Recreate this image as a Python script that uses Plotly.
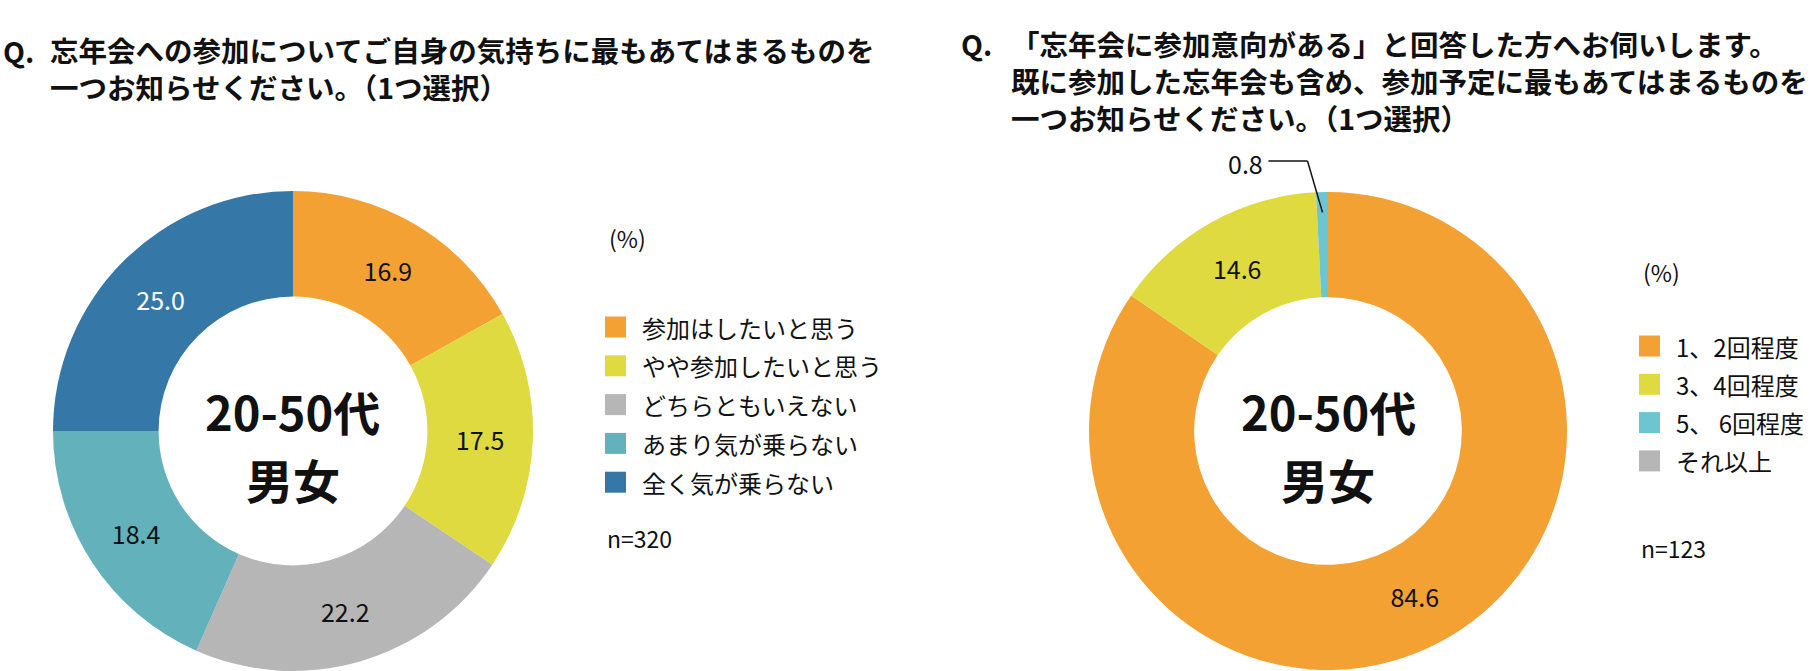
import math
import plotly.graph_objects as go

W, H = 1819, 671
FONT = "Noto Sans CJK JP"

# ---------------- data ----------------
left_title = ["忘年会への参加についてご自身の気持ちに最もあてはまるものを",
              "一つお知らせください。（1つ選択）"]
left_labels = ["参加はしたいと思う", "やや参加したいと思う", "どちらともいえない",
               "あまり気が乗らない", "全く気が乗らない"]
left_values = [16.9, 17.5, 22.2, 18.4, 25.0]
left_n = "n=320"

right_title = ["「忘年会に参加意向がある」と回答した方へお伺いします。",
               "既に参加した忘年会も含め、参加予定に最もあてはまるものを",
               "一つお知らせください。（1つ選択）"]
right_labels = ["1、2回程度", "3、4回程度", "5、 6回程度", "それ以上"]
right_values = [84.6, 14.6, 0.8, 0.0]
right_n = "n=123"

center_lines = ["20-50代", "男女"]
unit_label = "(%)"
q_mark = "Q."

# ---------------- styles ----------------
left_colors = ["#F4A133", "#DFDA3F", "#B6B6B6", "#63B1BB", "#3577A7"]
right_colors = ["#F4A133", "#DFDA3F", "#6CC5D0", "#B6B6B6"]
left_text_colors = ["#111111", "#111111", "#111111", "#111111", "#FFFFFF"]
right_text_colors = ["#111111"] * 4


def px(x):
    return x / W


def py(y):
    return 1 - y / H


left_dom_x = [px(53), px(533)]
right_dom_x = [px(1089), px(1567)]
dom_y = [0, 480 / H]
hole = 0.56


def fmt(v, small=2.0):
    return "" if v < small else f"{v:.1f}"


fig = go.Figure()
for labels, values, colors, tcolors, domx in [
    (left_labels, left_values, left_colors, left_text_colors, left_dom_x),
    (right_labels, right_values, right_colors, right_text_colors, right_dom_x),
]:
    fig.add_trace(go.Pie(
        labels=labels, values=values, sort=False, direction="clockwise", rotation=0,
        hole=hole, marker=dict(colors=colors, line=dict(width=0)),
        text=[fmt(v) for v in values], textinfo="text", textposition="inside",
        insidetextorientation="horizontal",
        textfont=dict(family=FONT, size=25, color=tcolors),
        domain=dict(x=domx, y=dom_y), showlegend=False, hoverinfo="label+value",
    ))

ann = []
shapes = []


def text(x, y, s, size, bold=False, xanchor="left", color="#111111", align="left"):
    ann.append(dict(x=px(x), y=py(y), xref="paper", yref="paper", text=s, showarrow=False,
                    xanchor=xanchor, yanchor="middle", align=align, borderpad=0,
                    font=dict(family=FONT, size=size, color=color,
                              weight=700 if bold else 400)))


# titles
text(2, 50, q_mark, 28.5, bold=True)
text(49, 68, "<br>".join(left_title), 28.5, bold=True)
text(960, 44, q_mark, 28.5, bold=True)
text(1010, 80, "<br>".join(right_title), 28.5, bold=True)

# center texts
for domx in (left_dom_x, right_dom_x):
    cx = (domx[0] + domx[1]) / 2 * W
    text(cx, 410, center_lines[0], 47, bold=True, xanchor="center")
    text(cx, 478, center_lines[1], 47, bold=True, xanchor="center")

# legends
for labels, colors, x0, y0, dy, unit_y, n_y, n in [
    (left_labels, left_colors, 605, 327, 38.8, 238, 538, left_n),
    (right_labels, right_colors, 1639, 346, 38.3, 272, 548, right_n),
]:
    text(x0 + 3, unit_y, unit_label, 23)
    for i, (lab, c) in enumerate(zip(labels, colors)):
        yc = y0 + i * dy
        shapes.append(dict(type="rect", xref="paper", yref="paper",
                           x0=px(x0), x1=px(x0 + 21), y0=py(yc - 10.5), y1=py(yc + 10.5),
                           fillcolor=c, line=dict(width=0)))
        text(x0 + 36, yc, lab, 24)
    text(x0 + 1, n_y, n, 23)

# leader label for the small slice on the right chart
cx = (right_dom_x[0] + right_dom_x[1]) / 2 * W
cy = H * (1 - (dom_y[0] + dom_y[1]) / 2)
R = min((right_dom_x[1] - right_dom_x[0]) * W, (dom_y[1] - dom_y[0]) * H) / 2
tot = sum(right_values)
idx = 2
start = sum(right_values[:idx])
theta = 2 * math.pi * (start + right_values[idx] / 2) / tot
ex = cx + 0.915 * R * math.sin(theta)
ey = cy - 0.915 * R * math.cos(theta)
elx = ex - 15
ely = cy - 1.13 * R
shapes.append(dict(type="line", xref="paper", yref="paper", x0=px(elx), y0=py(ely),
                   x1=px(ex), y1=py(ey), line=dict(color="#111111", width=1.5)))
shapes.append(dict(type="line", xref="paper", yref="paper", x0=px(elx - 39), y0=py(ely),
                   x1=px(elx), y1=py(ely), line=dict(color="#111111", width=1.5)))
text(elx - 44, ely + 2, f"{right_values[idx]:.1f}", 25, xanchor="right")

fig.update_layout(
    width=W, height=H, margin=dict(l=0, r=0, t=0, b=0),
    paper_bgcolor="white", plot_bgcolor="white",
    annotations=ann, shapes=shapes, showlegend=False,
    font=dict(family=FONT),
)

fig.write_html("out.html", config={"displayModeBar": False},
               post_script="document.body.style.margin='0';document.body.style.overflow='hidden';")
